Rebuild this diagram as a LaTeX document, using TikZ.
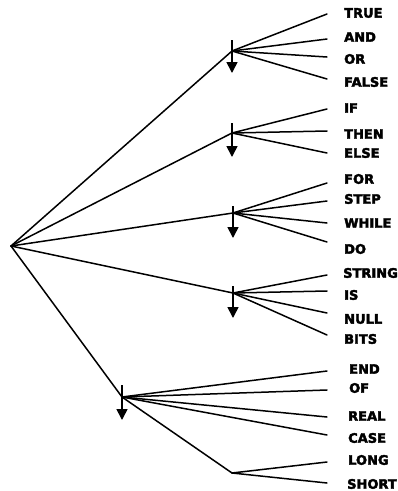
\documentclass[tikz,border=0pt]{standalone}
\usepackage{fontspec}
\setmainfont{DejaVu Sans}
\newfontfamily\lblfont[FakeBold=3]{DejaVu Sans Bold}
\usetikzlibrary{arrows.meta}
\begin{document}
\begin{tikzpicture}[x=1pt,y=-1pt,
  edge/.style={line width=1.5pt,line cap=round},
  lbl/.style={anchor=west,inner sep=0pt,font=\lblfont\fontsize{13}{14}\selectfont},
  downarrow/.style={line width=1.7pt,-{Triangle[width=11pt,length=11pt]}}]
\useasboundingbox (0,0) rectangle (398,491);
% branch points
\coordinate (root) at (11,246);
\coordinate (n1) at (232,51);
\coordinate (n2) at (232,133);
\coordinate (n3) at (233,213);
\coordinate (n4) at (233,293);
\coordinate (n5) at (122,397);
\coordinate (n6) at (232,473);
% arrow starts / tips
\coordinate (a1s) at (232,40);  \coordinate (a1e) at (232,73);
\coordinate (a2s) at (232,123); \coordinate (a2e) at (232,157);
\coordinate (a3s) at (233,206); \coordinate (a3e) at (233,238);
\coordinate (a4s) at (233,286); \coordinate (a4e) at (233,318);
\coordinate (a5s) at (122,385); \coordinate (a5e) at (122,420);
% line ends
\foreach \n/\y in {eTRUE/14,eAND/39,eOR/57,eFALSE/79,eIF/109,eTHEN/131,eELSE/153,
  eFOR/183,eSTEP/201,eWHILE/223,eDO/242,eSTRING/275,eIS/291,eNULL/313,eBITS/335,
  eEND/371,eOF/390,eREAL/417,eCASE/435,eLONG/462,eSHORT/483}
  \coordinate (\n) at (327,\y);
% labels
\node[lbl] (TRUE) at (344,13) {TRUE};
\node[lbl] (AND) at (344,37) {AND};
\node[lbl] (OR) at (344,59) {OR};
\node[lbl] (FALSE) at (344,82) {FALSE};
\node[lbl] (IF) at (344,108) {IF};
\node[lbl] (THEN) at (344,134) {THEN};
\node[lbl] (ELSE) at (344,153) {ELSE};
\node[lbl] (FOR) at (344,179) {FOR};
\node[lbl] (STEP) at (344,199) {STEP};
\node[lbl] (WHILE) at (344,223) {WHILE};
\node[lbl] (DO) at (344,249) {DO};
\node[lbl] (STRING) at (343,273) {STRING};
\node[lbl] (IS) at (344,295) {IS};
\node[lbl] (NULL) at (344,319) {NULL};
\node[lbl] (BITS) at (344,339) {BITS};
\node[lbl] (END) at (349,369) {END};
\node[lbl] (OF) at (349,388) {OF};
\node[lbl] (REAL) at (348,416) {REAL};
\node[lbl] (CASE) at (348,438) {CASE};
\node[lbl] (LONG) at (348,460) {LONG};
\node[lbl] (SHORT) at (347,484) {SHORT};
% trunk edges
\draw[edge] (root) -- (n1);
\draw[edge] (root) -- (n2);
\draw[edge] (root) -- (n3);
\draw[edge] (root) -- (n4);
\draw[edge] (root) -- (n5);
\draw[edge] (n5) -- (n6);
% leaf edges
\foreach \e in {eTRUE,eAND,eOR,eFALSE} \draw[edge] (n1) -- (\e);
\foreach \e in {eIF,eTHEN,eELSE} \draw[edge] (n2) -- (\e);
\foreach \e in {eFOR,eSTEP,eWHILE,eDO} \draw[edge] (n3) -- (\e);
\foreach \e in {eSTRING,eIS,eNULL,eBITS} \draw[edge] (n4) -- (\e);
\foreach \e in {eEND,eOF,eREAL,eCASE} \draw[edge] (n5) -- (\e);
\foreach \e in {eLONG,eSHORT} \draw[edge] (n6) -- (\e);
% down arrows
\draw[downarrow] (a1s) -- (a1e);
\draw[downarrow] (a2s) -- (a2e);
\draw[downarrow] (a3s) -- (a3e);
\draw[downarrow] (a4s) -- (a4e);
\draw[downarrow] (a5s) -- (a5e);
\end{tikzpicture}
\end{document}
